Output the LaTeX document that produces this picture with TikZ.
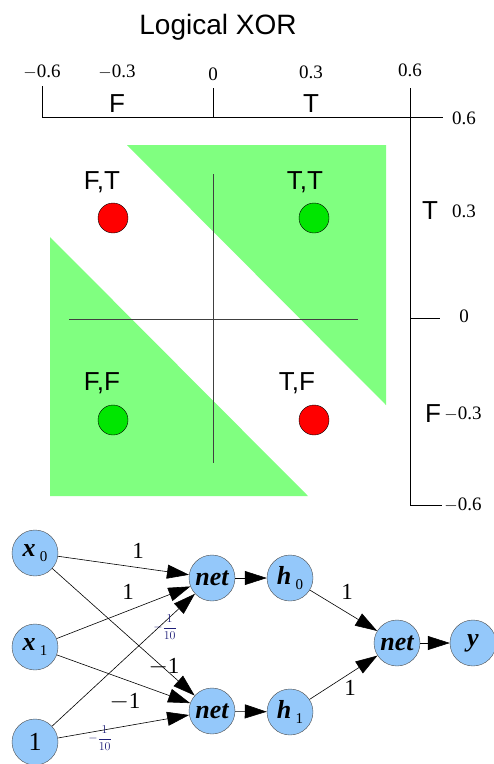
\documentclass[tikz,border=0pt]{standalone}
\usepackage{fontspec}
\setmainfont{Liberation Serif}
\newfontfamily\labelfont{Liberation Sans}
\usetikzlibrary{arrows.meta, positioning}
\definecolor{regionGreen}{RGB}{128,255,128}
\definecolor{falseRed}{RGB}{255,0,0}
\definecolor{trueGreen}{RGB}{0,230,0}
\definecolor{unitBlue}{RGB}{148,200,250}
\definecolor{wtNavy}{RGB}{30,30,120}
\newcommand{\lowidx}[1]{\,\raisebox{-0.4ex}{\fontsize{15}{15}\selectfont\mdseries\upshape #1}}

\begin{document}
\begin{tikzpicture}[x=1pt, y=-1pt,
  unit/.style={circle, draw=black!70, fill=unitBlue, minimum size=46pt, inner sep=0pt, font=\fontsize{26}{26}\selectfont\bfseries\itshape},
  link/.style={-{Triangle[length=22pt,width=14pt]}, line width=0.6pt},
  wt/.style={font=\fontsize{23}{23}\selectfont},
  fracwt/.style={text=wtNavy, font=\fontsize{13}{13}\selectfont},
  truthdot/.style={circle, draw=black, minimum size=30pt, inner sep=0pt},
  axisnum/.style={font=\fontsize{19}{19}\selectfont},
  truth/.style={font=\labelfont\fontsize{26}{26}\selectfont}]
  \useasboundingbox (0,0) rectangle (494,764);
  % XOR plane with the two separating bands
  \node[font=\labelfont\fontsize{28}{28}\selectfont] (title) at (218,27) {Logical XOR};
  \fill[regionGreen] (127,145) -- (386,145) -- (386,405) -- cycle;
  \fill[regionGreen] (50,237) -- (308,496) -- (50,496) -- cycle;
  \draw[black!75, line width=0.7pt] (213,174) -- (213,463);
  \draw[black!75, line width=0.7pt] (69,319) -- (358,319);

  \node[truthdot, fill=falseRed] (ft) at (113,218) {};
  \node[truthdot, fill=trueGreen] (tt) at (314,218) {};
  \node[truthdot, fill=trueGreen] (ff) at (113,420) {};
  \node[truthdot, fill=falseRed] (tf) at (314,420) {};
  \node[truth] at (102,182) {F,T};
  \node[truth] at (305,182) {T,T};
  \node[truth] at (102,383) {F,F};
  \node[truth] at (297,383) {T,F};

  % axes
  \draw[line width=0.8pt] (42,117) -- (443,117);
  \draw[line width=0.8pt] (410,88) -- (410,505);
  \draw[line width=0.8pt] (42,86) -- (42,117);
  \draw[line width=0.8pt] (213,88) -- (213,117);
  \draw[line width=0.8pt] (410,318) -- (440,318);
  \draw[line width=0.8pt] (410,505) -- (442,505);
  \node[axisnum] at (42,72) {$-$0.6};
  \node[axisnum] at (117,72) {$-$0.3};
  \node[axisnum] at (213,74) {0};
  \node[axisnum] at (311,72) {0.3};
  \node[axisnum] at (410,70) {0.6};
  \node[truth] at (117,104) {F};
  \node[truth] at (311,104) {T};
  \node[axisnum] at (464,118) {0.6};
  \node[truth] at (430,211) {T};
  \node[axisnum] at (464,211) {0.3};
  \node[axisnum] at (464,316) {0};
  \node[truth] at (433,414) {F};
  \node[axisnum] at (463,414) {$-$0.3};
  \node[axisnum] at (463,505) {$-$0.6};

  % network
  \node[unit] (x0) at (35,553) {x\lowidx{0}};
  \node[unit] (x1) at (35,647) {x\lowidx{1}};
  \node[unit, font=\fontsize{26}{26}\selectfont] (bias) at (35,742) {1};
  \node[unit] (n0) at (212,578) {net};
  \node[unit] (n1) at (212,711) {net};
  \node[unit] (h0) at (290,578) {h\lowidx{0}};
  \node[unit] (h1) at (290,712) {h\lowidx{1}};
  \node[unit] (nout) at (397,643) {net};
  \node[unit] (y) at (473,643) {y};

  \draw[link] (x0) -- (n0);
  \draw[link] (x1) -- (n0);
  \draw[link] (bias) -- (n0);
  \draw[link] (x0) -- (n1);
  \draw[link] (x1) -- (n1);
  \draw[link] (bias) -- (n1);
  \draw[link] (n0) -- (h0);
  \draw[link] (n1) -- (h1);
  \draw[link] (h0) -- (nout);
  \draw[link] (h1) -- (nout);
  \draw[link] (nout) -- (y);

  \node[wt] at (138,551) {1};
  \node[wt] at (128,592) {1};
  \node[fracwt] at (165,627) {$-\displaystyle\frac{1}{10}$};
  \node[wt] at (164,667) {$-$1};
  \node[wt] at (125,702) {$-$1};
  \node[fracwt] at (100,738) {$-\displaystyle\frac{1}{10}$};
  \node[wt] at (347,592) {1};
  \node[wt] at (350,688) {1};
\end{tikzpicture}
\end{document}
